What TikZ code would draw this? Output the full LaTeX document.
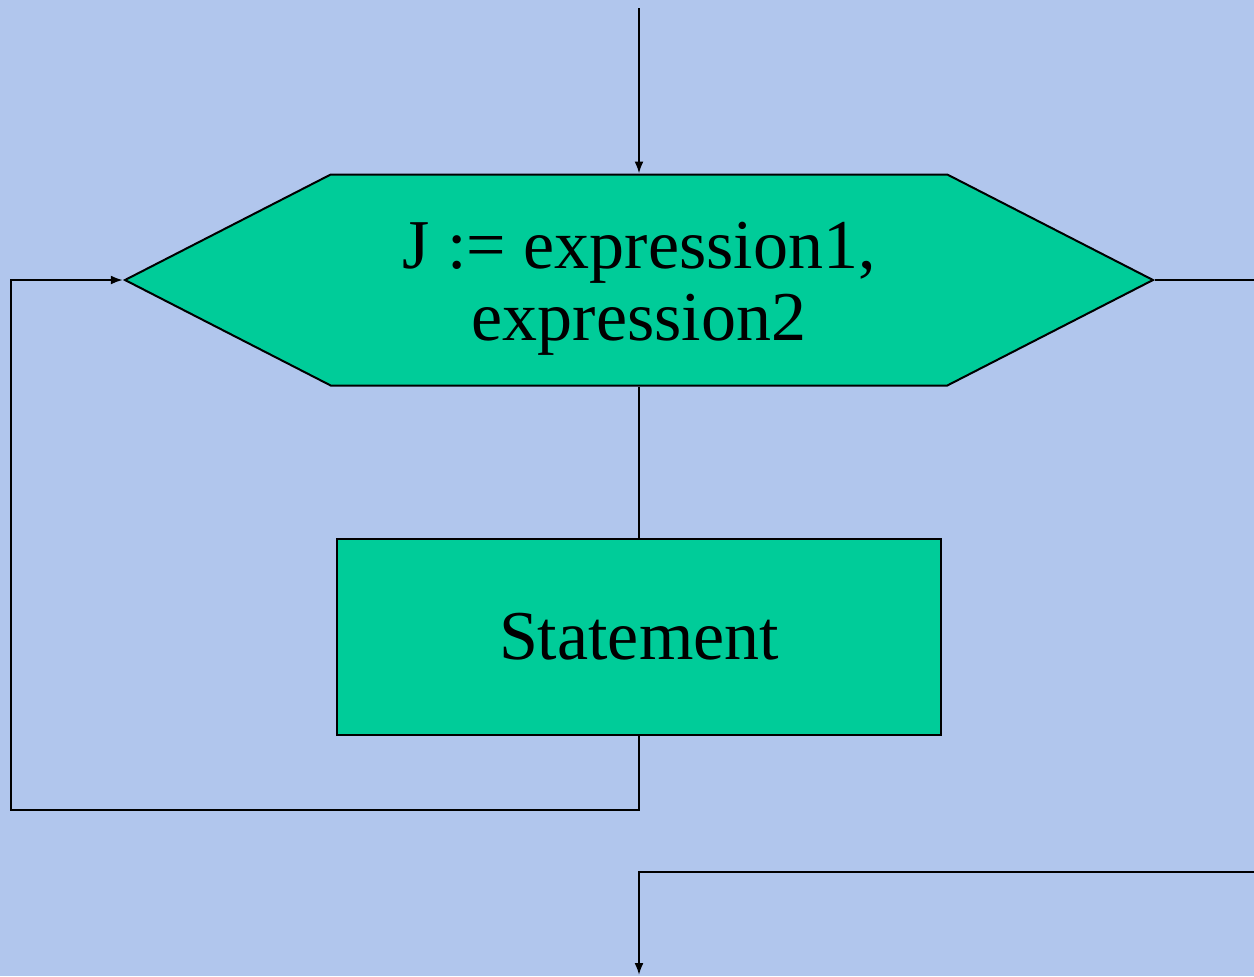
\documentclass[tikz,border=0pt]{standalone}
\usepackage{fontspec}
\setmainfont{Liberation Serif}
\usetikzlibrary{
		positioning,
		arrows.meta,
		shapes.symbols
	}
\definecolor{bgblue}{RGB}{177,198,237}
\definecolor{boxgreen}{RGB}{0,204,153}
\tikzset{
		>={Latex[length=6pt,width=4.5pt]}
	}

\begin{document}
\begin{tikzpicture}[-,auto,x=0.5pt,y=-0.5pt,node distance=10mm]
	\tikzstyle{point}=[coordinate]
	\tikzstyle{block}=[draw, line width=1pt, fill=boxgreen, rectangle, minimum height=98pt, minimum width=302pt, inner sep=0pt, font=\fontsize{35}{36}\selectfont]
	\tikzstyle{loopbox}=[draw, line width=1pt, fill=boxgreen, signal, signal to=west and east, signal pointer angle=54.3, minimum height=105.5pt, minimum width=514pt, inner sep=0pt]
	\tikzstyle{looptext}=[align=center, inner sep=0pt, font=\fontsize{35}{36}\selectfont]
	% Background
	\fill[bgblue] (0,0) rectangle (1254,976);
	\useasboundingbox (0,0) rectangle (1254,976);
	% Points and Blocks
	\node[loopbox] (L)	at (639,280)			{};
	\node[looptext] (Lt)	at (639,289)		{J := expression1,\\expression2};
	\node[block] (S)	[below = 75.5pt of L]	{Statement};
	\node[point] (p0)	at (639,8)				{};
	\node[point] (p1)	at (639,810)			{};
	\node[point] (p2)	at (11,810)				{};
	\node[point] (p3)	at (11,280)				{};
	\node[point] (p4)	at (1254,280)			{};
	\node[point] (p5)	at (1254,872)			{};
	\node[point] (p6)	at (639,872)			{};
	\node[point] (p7)	at (639,975)			{};
	% Straight Lines
	\draw [line width=1pt] (L.south) -- (S.north) (L.east) -- (p4);
	\draw [line width=1pt,->] (p0) -- (L.north);
	% Other lines
	\draw [line width=1pt,->] (S.south) -- (p1) -- (p2) -- (p3) -- (L.west);
	\draw [line width=1pt,->] (p5) -- (p6) -- (p7);
\end{tikzpicture}
\end{document}
